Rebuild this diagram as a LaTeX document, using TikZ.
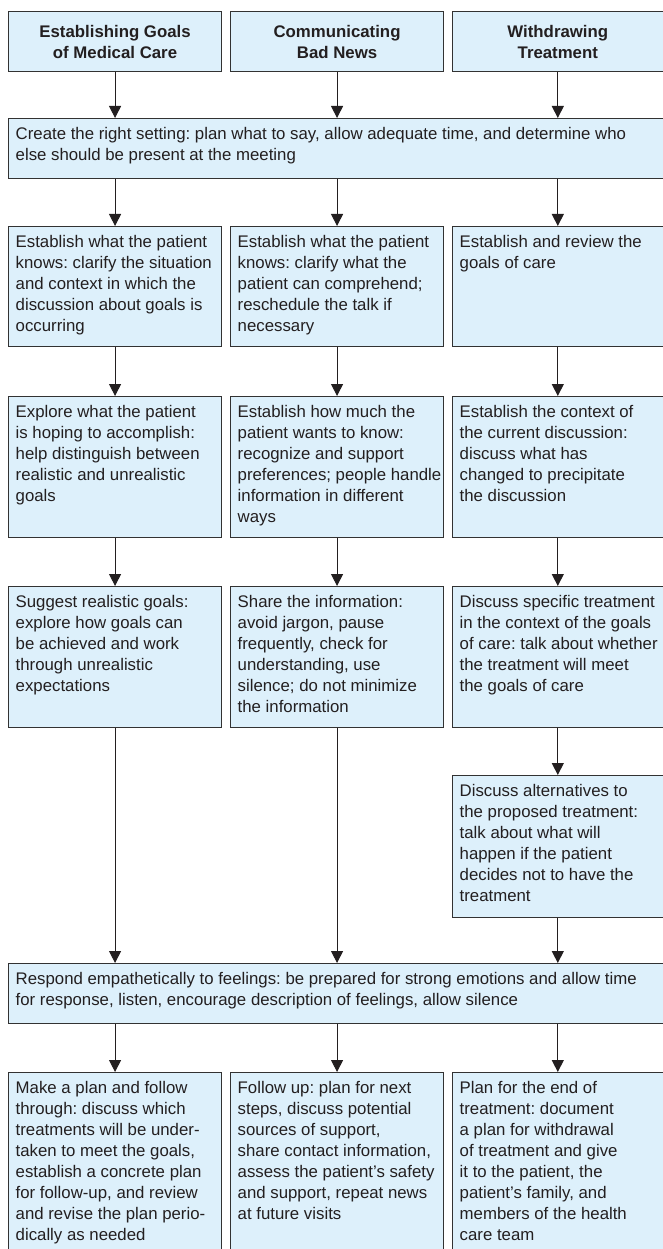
\documentclass[tikz,border=0pt]{standalone}
\usepackage{fontspec}
\setmainfont{Liberation Sans}
\usepackage{xcolor}
\usepackage{tikz}
\usetikzlibrary{arrows.meta, positioning, calc}

\definecolor{boxfill}{RGB}{221,240,251}
\definecolor{boxline}{RGB}{50,50,50}
\definecolor{inkgray}{RGB}{35,31,32}
\newcommand{\stepfont}{\fontsize{16.8}{21}\selectfont}
\frenchspacing

\begin{document}
\begin{tikzpicture}[
        x=1pt, y=-1pt,
        stepbox/.style={rectangle, draw=boxline, line width=1.1pt, fill=boxfill, anchor=north west, inner sep=0pt, minimum width=213pt},
        lastcol/.style={minimum width=210.5pt},
        widebox/.style={stepbox, minimum width=654.5pt},
        headbox/.style={stepbox, minimum height=60pt, font=\stepfont\bfseries, text=inkgray, align=center},
        steptext/.style={anchor=north west, align=left, inner xsep=7.5pt, inner ysep=9.5pt, font=\stepfont, text=inkgray},
        flow/.style={draw=inkgray, line width=1pt, -{Triangle[length=12pt, width=12pt]}}
    ]
        \useasboundingbox (0,0) rectangle (663,1249);

        % Headings
        \node[headbox] (goals) at (8, 11) {Establishing Goals\\of Medical Care};
        \node[headbox] (news) at (230, 11) {Communicating\\Bad News};
        \node[headbox, lastcol] (withdraw) at (452, 11) {Withdrawing\\Treatment};

        % Setting
        \node[widebox, minimum height=60pt, label={[steptext]north west:{Create the right setting: plan what to say, allow adequate time, and determine who\\else should be present at the meeting}}] (setting) at (8, 118) {};

        % Column steps
        \node[stepbox, minimum height=120pt, label={[steptext]north west:{Establish what the patient\\knows: clarify the situation\\and context in which the\\discussion about goals is\\occurring}}] (knowsA) at (8, 226) {};
        \node[stepbox, minimum height=120pt, label={[steptext]north west:{Establish what the patient\\knows: clarify what the\\patient can comprehend;\\reschedule the talk if\\necessary}}] (knowsB) at (230, 226) {};
        \node[stepbox, lastcol, minimum height=120pt, label={[steptext]north west:{Establish and review the\\goals of care}}] (reviewC) at (452, 226) {};

        \node[stepbox, minimum height=141pt, label={[steptext]north west:{Explore what the patient\\is hoping to accomplish:\\help distinguish between\\realistic and unrealistic\\goals}}] (exploreA) at (8, 396) {};
        \node[stepbox, minimum height=141pt, label={[steptext]north west:{Establish how much the\\patient wants to know:\\recognize and support\\preferences; people handle\\information in different\\ways}}] (howmuchB) at (230, 396) {};
        \node[stepbox, lastcol, minimum height=141pt, label={[steptext]north west:{Establish the context of\\the current discussion:\\discuss what has\\changed to precipitate\\the discussion}}] (contextC) at (452, 396) {};

        \node[stepbox, minimum height=141pt, label={[steptext]north west:{Suggest realistic goals:\\explore how goals can\\be achieved and work\\through unrealistic\\expectations}}] (suggestA) at (8, 586) {};
        \node[stepbox, minimum height=141pt, label={[steptext]north west:{Share the information:\\avoid jargon, pause\\frequently, check for\\understanding, use\\silence; do not minimize\\the information}}] (shareB) at (230, 586) {};
        \node[stepbox, lastcol, minimum height=141pt, label={[steptext]north west:{Discuss specific treatment\\in the context of the goals\\of care: talk about whether\\the treatment will meet\\the goals of care}}] (specificC) at (452, 586) {};

        \node[stepbox, lastcol, minimum height=142pt, label={[steptext]north west:{Discuss alternatives to\\the proposed treatment:\\talk about what will\\happen if the patient\\decides not to have the\\treatment}}] (altC) at (452, 775) {};

        % Feelings
        \node[widebox, minimum height=60pt, label={[steptext]north west:{Respond empathetically to feelings: be prepared for strong emotions and allow time\\for response, listen, encourage description of feelings, allow silence}}] (respond) at (8, 963) {};

        % Closing steps
        \node[stepbox, minimum height=190pt, label={[steptext]north west:{Make a plan and follow\\through: discuss which\\treatments will be under-\\taken to meet the goals,\\establish a concrete plan\\for follow-up, and review\\and revise the plan perio-\\dically as needed}}] (planA) at (8, 1072) {};
        \node[stepbox, minimum height=190pt, label={[steptext]north west:{Follow up: plan for next\\steps, discuss potential\\sources of support,\\share contact information,\\assess the patient’s safety\\and support, repeat news\\at future visits}}] (followB) at (230, 1072) {};
        \node[stepbox, lastcol, minimum height=190pt, label={[steptext]north west:{Plan for the end of\\treatment: document\\a plan for withdrawal\\of treatment and give\\it to the patient, the\\patient’s family, and\\members of the health\\care team}}] (endC) at (452, 1072) {};

        % Arrows
        \draw[flow] (goals) -- (goals |- setting.north);
        \draw[flow] (news) -- (news |- setting.north);
        \draw[flow] (withdraw) -- (withdraw |- setting.north);
        \draw[flow] (knowsA |- setting.south) -- (knowsA);
        \draw[flow] (knowsB |- setting.south) -- (knowsB);
        \draw[flow] (reviewC |- setting.south) -- (reviewC);
        \draw[flow] (knowsA) -- (exploreA);
        \draw[flow] (knowsB) -- (howmuchB);
        \draw[flow] (reviewC) -- (contextC);
        \draw[flow] (exploreA) -- (suggestA);
        \draw[flow] (howmuchB) -- (shareB);
        \draw[flow] (contextC) -- (specificC);
        \draw[flow] (specificC) -- (altC);
        \draw[flow] (suggestA) -- (suggestA |- respond.north);
        \draw[flow] (shareB) -- (shareB |- respond.north);
        \draw[flow] (altC) -- (altC |- respond.north);
        \draw[flow] (planA |- respond.south) -- (planA);
        \draw[flow] (followB |- respond.south) -- (followB);
        \draw[flow] (endC |- respond.south) -- (endC);
    \end{tikzpicture}
\end{document}
